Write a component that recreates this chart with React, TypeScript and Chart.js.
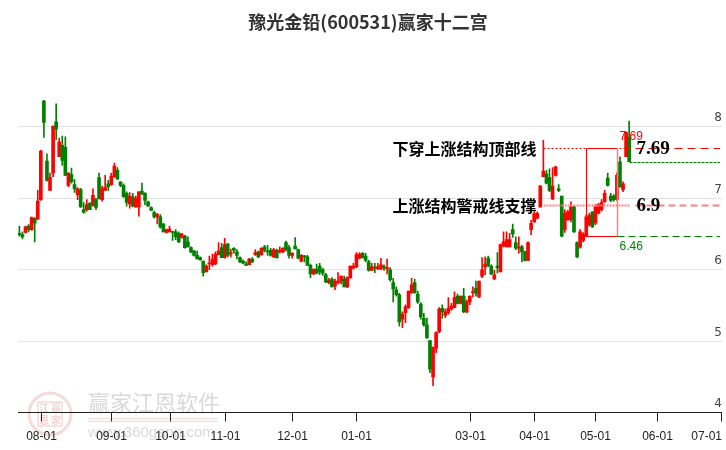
import React, { useEffect, useRef } from 'react';
import { Chart, registerables } from 'chart.js';

Chart.register(...registerables);

const chartTitle = '豫光金铅(600531)赢家十二宫';

const opens = [
  6.50, 6.48, 6.51, 6.60, 6.55, 6.71, 6.70, 6.97, 8.35, 7.51,
  7.10, 7.34, 8.06, 7.57, 7.73, 7.70, 7.17, 7.32, 7.18, 7.04,
  7.11, 6.83, 6.83, 6.92, 6.89, 6.97, 7.28, 6.97, 7.10, 7.19,
  7.18, 7.29, 7.38, 7.22, 7.17, 7.06, 6.91, 7.01, 6.87, 6.87,
  7.09, 7.06, 6.94, 6.86, 6.79, 6.73, 6.73, 6.63, 6.51, 6.52,
  6.52, 6.52, 6.50, 6.44, 6.46, 6.38, 6.30, 6.25, 6.19, 6.16,
  6.11, 5.96, 6.07, 6.06, 6.07, 6.20, 6.30, 6.16, 6.35, 6.21,
  6.29, 6.24, 6.16, 6.11, 6.07, 6.06, 6.14, 6.20, 6.24, 6.20,
  6.31, 6.25, 6.26, 6.17, 6.26, 6.24, 6.24, 6.37, 6.30, 6.19,
  6.32, 6.27, 6.11, 6.18, 6.17, 6.05, 5.93, 6.00, 6.04, 5.99,
  5.92, 5.81, 5.86, 5.76, 5.81, 5.83, 5.86, 5.75, 5.88, 6.01,
  6.03, 6.15, 6.22, 6.18, 6.10, 5.98, 6.03, 6.00, 6.00, 6.03,
  6.00, 5.99, 5.81, 5.71, 5.64, 5.30, 5.39, 5.46, 5.67, 5.81,
  5.65, 5.51, 5.31, 5.22, 5.00, 4.49, 4.89, 5.12, 5.45, 5.35,
  5.39, 5.44, 5.46, 5.62, 5.52, 5.62, 5.40, 5.54, 5.67, 5.73,
  5.61, 5.90, 6.03, 6.15, 6.04, 5.86, 6.04, 5.96, 6.32, 6.31,
  6.31, 6.55, 6.37, 6.29, 6.31, 6.24, 6.12, 6.55, 6.66, 6.71,
  6.87, 7.29, 7.33, 7.28, 6.98, 7.31, 7.12, 7.02, 6.55, 6.69,
  6.69, 6.87, 6.37, 6.31, 6.40, 6.46, 6.62, 6.80, 6.64, 6.78,
  6.83, 6.94, 7.27, 7.02, 7.02, 6.97, 7.50, 7.11, 7.57, 7.85,
];
const highs = [
  6.60, 6.52, 6.60, 6.62, 6.73, 6.72, 7.10, 7.66, 8.36, 7.61,
  7.34, 8.00, 8.31, 7.83, 7.86, 7.85, 7.35, 7.41, 7.25, 7.14,
  7.13, 6.93, 6.97, 6.93, 7.12, 6.99, 7.34, 7.16, 7.31, 7.24,
  7.34, 7.48, 7.42, 7.22, 7.19, 7.08, 7.07, 7.06, 7.02, 7.08,
  7.20, 7.07, 6.95, 6.87, 6.81, 6.78, 6.76, 6.64, 6.56, 6.60,
  6.53, 6.55, 6.52, 6.50, 6.47, 6.45, 6.31, 6.26, 6.25, 6.17,
  6.11, 6.06, 6.18, 6.21, 6.24, 6.37, 6.36, 6.43, 6.36, 6.28,
  6.30, 6.27, 6.17, 6.13, 6.10, 6.15, 6.16, 6.27, 6.25, 6.30,
  6.33, 6.33, 6.29, 6.29, 6.28, 6.31, 6.30, 6.39, 6.33, 6.23,
  6.44, 6.28, 6.20, 6.19, 6.19, 6.07, 6.00, 6.07, 6.08, 6.01,
  5.94, 5.87, 5.88, 5.86, 5.95, 5.90, 5.90, 5.89, 6.04, 6.08,
  6.23, 6.23, 6.23, 6.22, 6.12, 6.08, 6.08, 6.08, 6.15, 6.06,
  6.14, 6.02, 5.87, 5.75, 5.66, 5.40, 5.50, 5.69, 5.87, 5.86,
  5.69, 5.53, 5.38, 5.31, 5.00, 4.91, 5.12, 5.46, 5.50, 5.44,
  5.60, 5.52, 5.68, 5.65, 5.62, 5.73, 5.57, 5.62, 5.75, 5.83,
  5.83, 6.16, 6.17, 6.18, 6.06, 5.98, 6.23, 6.35, 6.52, 6.52,
  6.50, 6.63, 6.45, 6.45, 6.33, 6.25, 6.38, 6.68, 6.80, 6.80,
  7.17, 7.80, 7.38, 7.40, 7.42, 7.44, 7.18, 7.02, 6.83, 6.82,
  6.94, 6.88, 6.38, 6.55, 6.51, 6.76, 6.78, 6.80, 6.90, 6.92,
  6.97, 7.10, 7.34, 7.06, 7.04, 7.34, 7.57, 7.22, 7.92, 8.07,
];
const lows = [
  6.46, 6.42, 6.50, 6.52, 6.54, 6.38, 6.69, 6.96, 7.84, 7.23,
  7.10, 7.29, 7.81, 7.57, 7.45, 7.31, 7.15, 7.20, 7.07, 6.97,
  6.86, 6.78, 6.81, 6.83, 6.88, 6.83, 6.98, 6.95, 7.10, 7.10,
  7.17, 7.28, 7.25, 7.15, 7.00, 6.88, 6.85, 6.87, 6.86, 6.74,
  7.04, 6.90, 6.88, 6.82, 6.71, 6.63, 6.57, 6.52, 6.50, 6.52,
  6.40, 6.41, 6.37, 6.43, 6.29, 6.31, 6.23, 6.18, 6.14, 6.12,
  5.90, 5.96, 5.99, 6.04, 6.06, 6.20, 6.16, 6.15, 6.17, 6.17,
  6.22, 6.14, 6.09, 6.07, 6.05, 6.06, 6.09, 6.19, 6.16, 6.19,
  6.24, 6.19, 6.18, 6.16, 6.15, 6.22, 6.23, 6.25, 6.15, 6.15,
  6.28, 6.14, 6.10, 6.10, 6.05, 5.88, 5.92, 5.93, 5.92, 5.91,
  5.81, 5.79, 5.75, 5.71, 5.79, 5.79, 5.75, 5.74, 5.87, 6.00,
  6.02, 6.14, 6.15, 6.10, 5.97, 5.98, 5.95, 5.99, 5.99, 5.98,
  5.93, 5.83, 5.54, 5.62, 5.20, 5.18, 5.25, 5.45, 5.66, 5.66,
  5.52, 5.30, 5.20, 5.03, 4.55, 4.37, 4.83, 5.11, 5.31, 5.32,
  5.37, 5.42, 5.46, 5.51, 5.51, 5.39, 5.39, 5.50, 5.61, 5.62,
  5.60, 5.88, 5.92, 6.03, 5.92, 5.85, 5.94, 5.96, 6.31, 6.31,
  6.31, 6.44, 6.27, 6.22, 6.10, 6.11, 6.12, 6.48, 6.65, 6.70,
  6.86, 7.29, 7.19, 7.08, 6.97, 7.30, 7.08, 6.45, 6.51, 6.68,
  6.66, 6.51, 6.16, 6.29, 6.38, 6.45, 6.60, 6.58, 6.62, 6.77,
  6.81, 6.93, 7.16, 6.94, 6.95, 6.96, 7.14, 7.08, 7.57, 7.50,
];
const closes = [
  6.48, 6.45, 6.59, 6.55, 6.72, 6.64, 6.95, 7.65, 8.05, 7.24,
  7.28, 8.00, 7.96, 7.78, 7.52, 7.31, 7.34, 7.22, 7.12, 7.12,
  6.87, 6.79, 6.90, 6.83, 7.03, 6.86, 6.98, 7.12, 7.14, 7.15,
  7.30, 7.44, 7.26, 7.17, 7.01, 6.93, 7.02, 6.88, 6.99, 7.08,
  7.05, 6.96, 6.88, 6.82, 6.73, 6.76, 6.59, 6.52, 6.55, 6.56,
  6.51, 6.45, 6.38, 6.49, 6.30, 6.31, 6.24, 6.19, 6.14, 6.13,
  5.95, 6.04, 6.08, 6.14, 6.21, 6.25, 6.16, 6.34, 6.19, 6.23,
  6.26, 6.19, 6.10, 6.08, 6.05, 6.14, 6.10, 6.23, 6.17, 6.29,
  6.26, 6.24, 6.19, 6.27, 6.16, 6.26, 6.29, 6.27, 6.19, 6.22,
  6.28, 6.15, 6.19, 6.17, 6.05, 5.93, 6.00, 5.94, 5.96, 5.94,
  5.82, 5.84, 5.75, 5.83, 5.83, 5.90, 5.75, 5.88, 6.04, 6.04,
  6.20, 6.21, 6.16, 6.12, 5.98, 6.03, 6.01, 6.03, 6.06, 6.02,
  6.02, 5.85, 5.72, 5.64, 5.26, 5.37, 5.47, 5.69, 5.78, 5.67,
  5.54, 5.33, 5.22, 5.04, 4.60, 4.90, 5.11, 5.44, 5.40, 5.40,
  5.45, 5.48, 5.60, 5.52, 5.62, 5.40, 5.54, 5.62, 5.68, 5.66,
  5.83, 5.99, 6.07, 6.05, 5.93, 5.92, 6.02, 6.34, 6.38, 6.41,
  6.41, 6.49, 6.29, 6.31, 6.24, 6.12, 6.37, 6.64, 6.77, 6.78,
  7.16, 7.37, 7.20, 7.10, 7.16, 7.43, 7.10, 6.46, 6.78, 6.80,
  6.87, 6.52, 6.17, 6.52, 6.49, 6.73, 6.75, 6.59, 6.87, 6.90,
  6.93, 7.06, 7.17, 6.96, 6.97, 7.31, 7.15, 7.19, 7.91, 7.50,
];

const monthLabels = ['08-01', '09-01', '10-01', '11-01', '12-01', '01-01', '03-01', '04-01', '05-01', '06-01', '07-01'];
const monthIndex = [7, 30, 49, 67, 89, 110, 147, 168, 188, 208, 229];
const yTickValues = [4, 5, 6, 7, 8];

const topLineValue = 7.69;
const topLineText = '下穿上涨结构顶部线';
const supportValue = 6.9;
const supportText = '上涨结构警戒线支撑';
const boxLowValue = 6.46;
const lineStartIndex = 171;
const boxStartIndex = 185;
const boxEndIndex = 195;

const UP = '#ff0000';
const DOWN = '#008000';

const overlayPlugin = {
  id: 'overlay',
  beforeDatasetsDraw(chart: any) {
    const { ctx, chartArea, scales } = chart;
    const y = scales.y;
    ctx.save();
    // watermark
    const cx = 50, cy = 414;
    ctx.strokeStyle = 'rgba(230,150,150,0.35)';
    ctx.lineWidth = 3;
    ctx.beginPath();
    ctx.arc(cx, cy, 21, 0, Math.PI * 2);
    ctx.stroke();
    ctx.lineWidth = 1.5;
    ctx.strokeRect(cx - 12, cy - 12, 24, 24);
    ctx.fillStyle = 'rgba(220,130,130,0.35)';
    ctx.font = 'bold 10px "Noto Sans CJK SC"';
    ctx.textAlign = 'center';
    ctx.textBaseline = 'middle';
    ctx.fillText('江', cx - 6, cy - 6);
    ctx.fillText('赢', cx + 6, cy - 6);
    ctx.fillText('恩', cx - 6, cy + 6);
    ctx.fillText('家', cx + 6, cy + 6);
    ctx.fillStyle = 'rgba(170,170,170,0.45)';
    ctx.font = '22px "Noto Sans CJK SC"';
    ctx.textAlign = 'left';
    ctx.fillText('赢家江恩软件', 88, 403);
    ctx.fillStyle = 'rgba(230,160,160,0.35)';
    ctx.fillRect(88, 418, 130, 1.5);
    ctx.fillStyle = 'rgba(170,170,170,0.35)';
    ctx.fillRect(88, 421, 130, 1);
    ctx.fillStyle = 'rgba(170,170,170,0.45)';
    ctx.font = '15px "Liberation Sans"';
    ctx.fillText('www.360gann.com', 88, 433);

    // grid lines
    ctx.strokeStyle = '#e3e3e3';
    ctx.lineWidth = 1;
    yTickValues.forEach((v) => {
      if (v === y.min) return;
      const py = Math.round(y.getPixelForValue(v)) + 0.5;
      ctx.beginPath();
      ctx.moveTo(chartArea.left, py);
      ctx.lineTo(chartArea.right, py);
      ctx.stroke();
    });
    ctx.restore();
  },
  afterDatasetsDraw(chart: any) {
    const { ctx, chartArea, scales } = chart;
    const x = scales.x;
    const y = scales.y;
    ctx.save();

    // x axis line + ticks
    const axisY = Math.round(y.getPixelForValue(y.min)) + 0.5;
    ctx.strokeStyle = '#222';
    ctx.lineWidth = 1;
    ctx.beginPath();
    ctx.moveTo(chartArea.left, axisY);
    ctx.lineTo(chartArea.right, axisY);
    ctx.stroke();
    ctx.font = '12px "Liberation Sans"';
    ctx.fillStyle = '#222';
    ctx.textBaseline = 'middle';
    monthIndex.forEach((idx, k) => {
      const px = Math.round(x.getPixelForValue(idx)) + 0.5;
      ctx.beginPath();
      ctx.moveTo(px, axisY);
      ctx.lineTo(px, axisY + 9);
      ctx.stroke();
      const label = monthLabels[k];
      const w = ctx.measureText(label).width;
      let tx = px - w / 2;
      if (tx + w > chart.width - 4) tx = chart.width - 4 - w;
      ctx.textAlign = 'left';
      ctx.fillText(label, tx, axisY + 24);
    });

    // y labels
    ctx.fillStyle = '#444';
    ctx.textAlign = 'right';
    ctx.font = '12px "DejaVu Sans"';
    yTickValues.forEach((v) => {
      const py = y.getPixelForValue(v);
      ctx.fillText(String(v), chartArea.right, py - 8);
    });

    const yTop = Math.round(y.getPixelForValue(topLineValue)) + 0.5;
    const ySup = Math.round(y.getPixelForValue(supportValue)) + 0.5;
    const yLow = Math.round(y.getPixelForValue(boxLowValue)) + 0.5;
    const lastIdx = closes.length - 1;
    const yLast = Math.round(y.getPixelForValue(closes[lastIdx])) + 0.5;
    const xs = Math.round(x.getPixelForValue(lineStartIndex)) + 0.5;
    const xb0 = Math.round(x.getPixelForValue(boxStartIndex)) + 0.5;
    const xb1 = Math.round(x.getPixelForValue(boxEndIndex)) + 0.5;
    const xl = Math.round(x.getPixelForValue(lastIdx)) + 0.5;
    const xr = chartArea.right - 2;

    // support line (pink)
    ctx.strokeStyle = '#ff8080';
    ctx.lineWidth = 2;
    ctx.setLineDash([2, 1]);
    ctx.beginPath();
    ctx.moveTo(xs, ySup);
    ctx.lineTo(xl, ySup);
    ctx.stroke();
    ctx.setLineDash([7, 4]);
    ctx.beginPath();
    ctx.moveTo(xl + 6, ySup);
    ctx.lineTo(xr, ySup);
    ctx.stroke();

    // top line (red)
    ctx.strokeStyle = '#ff0000';
    ctx.lineWidth = 1;
    ctx.setLineDash([2, 2]);
    ctx.beginPath();
    ctx.moveTo(xs, yTop);
    ctx.lineTo(xl, yTop);
    ctx.stroke();
    ctx.setLineDash([8, 5]);
    ctx.beginPath();
    ctx.moveTo(xl + 6, yTop);
    ctx.lineTo(xr, yTop);
    ctx.stroke();
    ctx.setLineDash([]);

    // box
    ctx.beginPath();
    ctx.moveTo(xb0, yTop);
    ctx.lineTo(xb1, yTop);
    ctx.moveTo(xb0, yTop);
    ctx.lineTo(xb0, yLow);
    ctx.lineTo(xb1, yLow);
    ctx.stroke();
    ctx.strokeStyle = '#ff8080';
    ctx.lineWidth = 1.5;
    ctx.beginPath();
    ctx.moveTo(xb1, yTop);
    ctx.lineTo(xb1, yLow);
    ctx.stroke();

    // green low line
    ctx.strokeStyle = '#008000';
    ctx.lineWidth = 1;
    ctx.setLineDash([7, 4]);
    ctx.beginPath();
    ctx.moveTo(xb1, yLow);
    ctx.lineTo(xr, yLow);
    ctx.stroke();
    // last close line
    ctx.setLineDash([3, 1]);
    ctx.beginPath();
    ctx.moveTo(xl, yLast);
    ctx.lineTo(xr, yLast);
    ctx.stroke();
    ctx.setLineDash([]);

    // texts
    ctx.textBaseline = 'middle';
    ctx.textAlign = 'right';
    ctx.fillStyle = '#000';
    ctx.font = 'bold 16px "Noto Sans CJK SC"';
    ctx.fillText(topLineText, xs - 7, yTop);
    ctx.fillText(supportText, xs - 7, ySup);

    ctx.textAlign = 'left';
    ctx.font = 'bold 19px "Liberation Serif"';
    ctx.fillText(topLineValue.toFixed(2), xl + 7, yTop + 1);
    ctx.fillText(String(supportValue), xl + 7, ySup + 1);

    ctx.font = '12px "Liberation Sans"';
    ctx.fillStyle = '#ff0000';
    ctx.fillText(topLineValue.toFixed(2), xb1 + 2, yTop - 12);
    ctx.fillStyle = '#008000';
    ctx.fillText(boxLowValue.toFixed(2), xb1 + 2, yLow + 10);

    // title
    ctx.fillStyle = '#333';
    ctx.textAlign = 'center';
    ctx.font = 'bold 18px "Noto Sans CJK SC"';
    ctx.fillText(chartTitle, 368, 22);

    ctx.restore();
  },
};

export default function App() {
  const canvasRef = useRef<HTMLCanvasElement | null>(null);

  useEffect(() => {
    if (!canvasRef.current) return;
    const colors = opens.map((o, i) => (closes[i] >= o ? UP : DOWN));
    const wickData = opens.map((_, i) => ({ x: i, y: [lows[i], highs[i]] }));
    const bodyData = opens.map((o, i) => ({ x: i, y: [o, closes[i]] }));
    const chart = new Chart(canvasRef.current, {
      type: 'bar',
      data: {
        datasets: [
          {
            data: wickData as any,
            backgroundColor: colors,
            barThickness: 1,
            grouped: false,
            borderWidth: 0,
          } as any,
          {
            data: bodyData as any,
            backgroundColor: colors,
            barThickness: 3,
            grouped: false,
            borderWidth: 0,
            minBarLength: 1,
          } as any,
        ],
      },
      options: {
        animation: false,
        responsive: true,
        maintainAspectRatio: false,
        events: [],
        layout: { padding: { left: 18, right: 4, top: 54.5, bottom: 38 } },
        plugins: {
          legend: { display: false },
          tooltip: { enabled: false },
          title: { display: false },
        },
        scales: {
          x: {
            type: 'linear',
            display: false,
            offset: false,
            bounds: 'ticks',
            min: -0.45,
            max: 229.3,
            grid: { offset: false },
          },
          y: { type: 'linear', display: false, min: 4, max: 9 },
        },
      } as any,
      plugins: [overlayPlugin],
    });
    return () => chart.destroy();
  }, []);

  return (
    <div style={{ position: 'absolute', left: 0, top: 0, width: 726, height: 450, background: '#fff' }}>
      <canvas ref={canvasRef} />
    </div>
  );
}
